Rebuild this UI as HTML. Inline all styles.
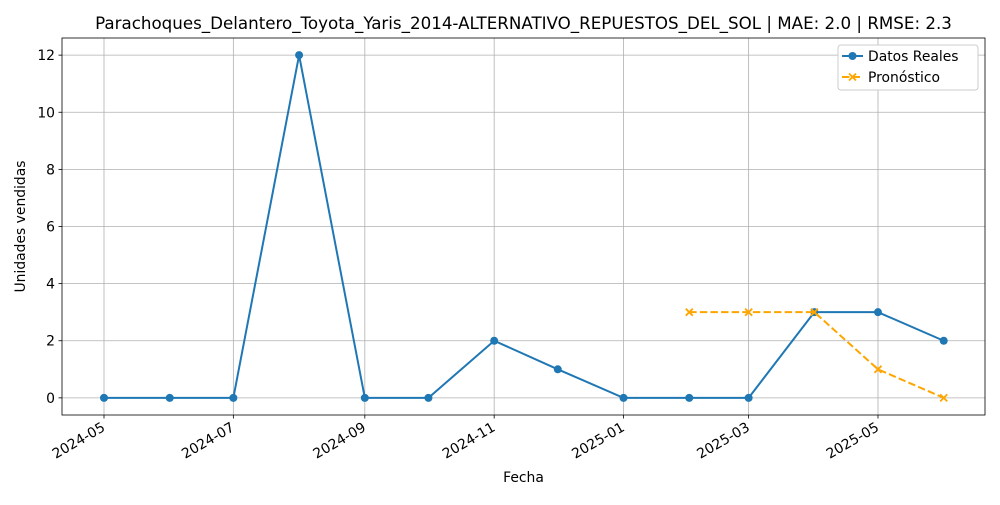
<!DOCTYPE html>
<html><head><meta charset="utf-8"><style>
body{margin:0;background:#fff;font-family:"Liberation Sans","DejaVu Sans",sans-serif;}
svg text{font-family:"DejaVu Sans","Liberation Sans",sans-serif;}
</style></head><body>
<svg id="chart" width="1000" height="500" xmlns="http://www.w3.org/2000/svg"></svg>
<script>
const months = ["2024-05-01","2024-06-01","2024-07-01","2024-08-01","2024-09-01","2024-10-01","2024-11-01","2024-12-01","2025-01-01","2025-02-01","2025-03-01","2025-04-01","2025-05-01","2025-06-01"];
const actualValues = [0,0,0,12,0,0,2,1,0,0,0,3,3,2];
const forecastMonths = ["2025-02-01","2025-03-01","2025-04-01","2025-05-01","2025-06-01"];
const forecastValues = [3,3,3,1,0];
const xTickLabels = ["2024-05","2024-07","2024-09","2024-11","2025-01","2025-03","2025-05"];
const yTickValues = [0,2,4,6,8,10,12];

const svg = document.getElementById('chart');
const NS = "http://www.w3.org/2000/svg";
const L=62,R=985,T=38,B=415;
const d0 = Date.parse("2024-05-01");
const dayPx = 2.1205;
function xs(s){return 104 + (Date.parse(s)-d0)/86400000*dayPx;}
const yMin=-0.6,yMax=12.6;
function ys(v){return B-(v-yMin)/(yMax-yMin)*(B-T);}
function mk(tag,attrs,parent){const e=document.createElementNS(NS,tag);for(const k in attrs)e.setAttribute(k,attrs[k]);(parent||svg).appendChild(e);return e;}

const grid = mk('g',{});


xTickLabels.forEach(t=>{const x=xs(t+"-01");mk('line',{x1:x,x2:x,y1:T,y2:B,stroke:'#b0b0b0','stroke-width':0.8},grid);});
yTickValues.forEach(v=>{const y=ys(v);mk('line',{x1:L,x2:R,y1:y,y2:y,stroke:'#b0b0b0','stroke-width':0.8},grid);});

const frame = mk('rect',{x:L,y:T,width:R-L,height:B-T,fill:'none',stroke:'#000','stroke-width':0.8});



xTickLabels.forEach(t=>{const x=xs(t+"-01");mk('line',{x1:x,x2:x,y1:B,y2:B+3.5,stroke:'#000','stroke-width':0.8});
 const tx=mk('text',{x:x+2,y:B+15,'font-size':13.9,'text-anchor':'end',transform:`rotate(-30 ${x+2} ${B+15})`});tx.textContent=t;
 });
yTickValues.forEach(v=>{const y=ys(v);mk('line',{x1:L,x2:L-3.5,y1:y,y2:y,stroke:'#000','stroke-width':0.8});
 const tx=mk('text',{x:L-7,y:y+5,'font-size':13.9,'text-anchor':'end'});tx.textContent=v;
 });

const ap = months.map((m,i)=>xs(m)+','+ys(actualValues[i])).join(' ');
const aLine=mk('polyline',{points:ap,fill:'none',stroke:'#1f77b4','stroke-width':2});

months.forEach((m,i)=>{const c=mk('circle',{cx:xs(m),cy:ys(actualValues[i]),r:4,fill:'#1f77b4'});
 });

const fp = forecastMonths.map((m,i)=>xs(m)+','+ys(forecastValues[i])).join(' ');
const fLine=mk('polyline',{points:fp,fill:'none',stroke:'#ffa500','stroke-width':2,'stroke-dasharray':'7.4,3.2'});

forecastMonths.forEach((m,i)=>{const x=xs(m),y=ys(forecastValues[i]);
 const g=mk('path',{d:`M${x-3.5},${y-3.5}L${x+3.5},${y+3.5}M${x-3.5},${y+3.5}L${x+3.5},${y-3.5}`,stroke:'#ffa500','stroke-width':1.8});
 });

const title=mk('text',{x:(L+R)/2,y:29,'font-size':16.7,'text-anchor':'middle'});
title.textContent="Parachoques_Delantero_Toyota_Yaris_2014-ALTERNATIVO_REPUESTOS_DEL_SOL | MAE: 2.0 | RMSE: 2.3";

const xl=mk('text',{x:(L+R)/2,y:482,'font-size':13.9,'text-anchor':'middle'});xl.textContent="Fecha";

const yl=mk('text',{x:25,y:(T+B)/2,'font-size':13.9,'text-anchor':'middle',transform:`rotate(-90 25 ${(T+B)/2})`});yl.textContent="Unidades vendidas";


const lg=mk('g',{});

mk('rect',{x:838,y:45,width:140,height:45,rx:3,fill:'#fff',stroke:'#ccc','stroke-width':1},lg);
const e1=mk('g',{},lg);
mk('line',{x1:842,x2:863,y1:56,y2:56,stroke:'#1f77b4','stroke-width':2},e1);
mk('circle',{cx:852.5,cy:56,r:4,fill:'#1f77b4'},e1);
const t1=mk('text',{x:868,y:61,'font-size':13.9},e1);t1.textContent="Datos Reales";
const e2=mk('g',{},lg);
mk('line',{x1:842,x2:863,y1:77,y2:77,stroke:'#ffa500','stroke-width':2,'stroke-dasharray':'7.4,3.2'},e2);
mk('path',{d:'M849,73.5L856,80.5M849,80.5L856,73.5',stroke:'#ffa500','stroke-width':1.8},e2);
const t2=mk('text',{x:868,y:82,'font-size':13.9},e2);t2.textContent="Pronóstico";
</script>
</body></html>
